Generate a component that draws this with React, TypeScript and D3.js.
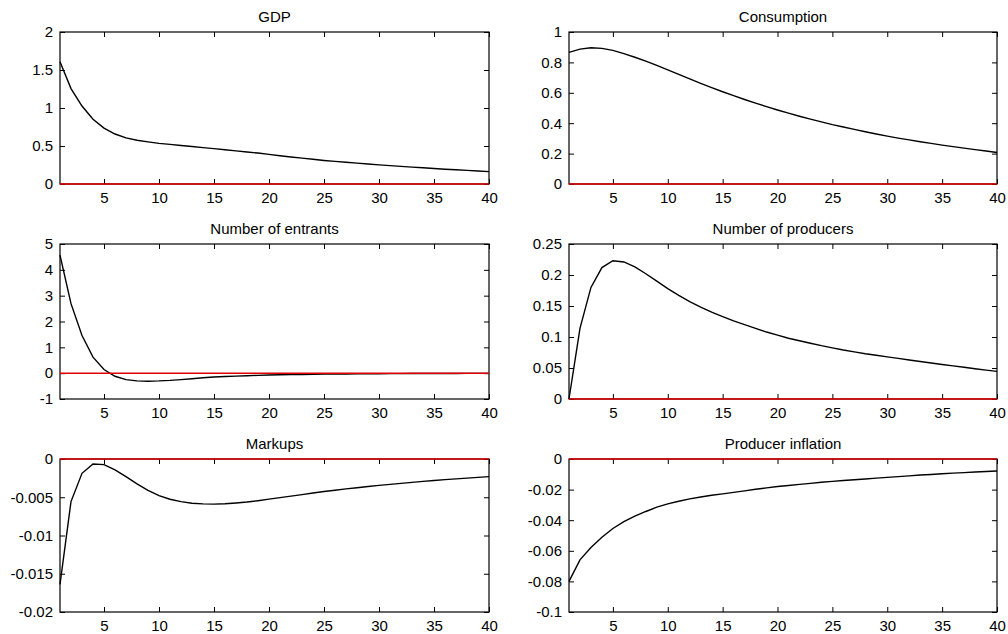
import React, { useEffect, useRef } from "react";
import * as d3 from "d3";

// horizon (quarters)
const periods = d3.range(1, 41);
const xTicks = [5, 10, 15, 20, 25, 30, 35, 40];

// impulse responses
const gdp = [1.61, 1.255, 1.026, 0.853, 0.736, 0.658, 0.606, 0.576, 0.554, 0.535,
  0.521, 0.507, 0.493, 0.479, 0.465, 0.45, 0.436, 0.421, 0.407, 0.39,
  0.372, 0.356, 0.34, 0.325, 0.31, 0.298, 0.286, 0.275, 0.264, 0.252,
  0.242, 0.232, 0.222, 0.213, 0.204, 0.195, 0.187, 0.179, 0.171, 0.163];
const consumption = [0.866, 0.887, 0.896, 0.892, 0.879, 0.858, 0.834, 0.808, 0.78, 0.751,
  0.721, 0.691, 0.662, 0.634, 0.607, 0.581, 0.556, 0.532, 0.509, 0.487,
  0.466, 0.446, 0.427, 0.409, 0.391, 0.375, 0.359, 0.344, 0.329, 0.315,
  0.302, 0.29, 0.278, 0.267, 0.256, 0.246, 0.236, 0.226, 0.217, 0.207];
const entrants = [4.57, 2.69, 1.46, 0.62, 0.14, -0.12, -0.25, -0.3, -0.31, -0.3,
  -0.28, -0.25, -0.215, -0.18, -0.15, -0.13, -0.113, -0.098, -0.085, -0.073,
  -0.062, -0.055, -0.049, -0.043, -0.038, -0.034, -0.03, -0.027, -0.024, -0.021,
  -0.019, -0.017, -0.015, -0.013, -0.012, -0.011, -0.01, -0.009, -0.008, -0.007];
const producers = [0, 0.114, 0.18, 0.212, 0.223, 0.221, 0.213, 0.202, 0.19, 0.178,
  0.167, 0.157, 0.148, 0.14, 0.133, 0.126, 0.12, 0.114, 0.108, 0.103,
  0.098, 0.094, 0.09, 0.086, 0.0825, 0.079, 0.076, 0.073, 0.0705, 0.068,
  0.0655, 0.063, 0.0605, 0.058, 0.0557, 0.0534, 0.0511, 0.0489, 0.0466, 0.0445];
const markups = [-0.0164, -0.00557, -0.00187, -0.00065, -0.00074, -0.00143, -0.0023, -0.00326, -0.0041, -0.0048,
  -0.00526, -0.00557, -0.00578, -0.00587, -0.0059, -0.00585, -0.00575, -0.00562, -0.00545, -0.00525,
  -0.00505, -0.00485, -0.00465, -0.00445, -0.00425, -0.00408, -0.00391, -0.00375, -0.0036, -0.00345,
  -0.00331, -0.00318, -0.00305, -0.00293, -0.00281, -0.0027, -0.0026, -0.0025, -0.0024, -0.0023];
const producerInflation = [-0.08, -0.0659, -0.0578, -0.0511, -0.0454, -0.0409, -0.0374, -0.0343, -0.0315, -0.0293,
  -0.0276, -0.0261, -0.0248, -0.0237, -0.0228, -0.0218, -0.0208, -0.0198, -0.0189, -0.018,
  -0.0173, -0.0166, -0.0159, -0.0152, -0.0146, -0.0141, -0.0136, -0.0131, -0.0125, -0.012,
  -0.0115, -0.011, -0.0105, -0.0101, -0.0096, -0.0092, -0.0089, -0.0085, -0.0082, -0.0078];

const titles = ["GDP", "Consumption", "Number of entrants", "Number of producers", "Markups", "Producer inflation"];
const series = [gdp, consumption, entrants, producers, markups, producerInflation];
const yTicks = [
  [0, 0.5, 1, 1.5, 2],
  [0, 0.2, 0.4, 0.6, 0.8, 1],
  [-1, 0, 1, 2, 3, 4, 5],
  [0, 0.05, 0.1, 0.15, 0.2, 0.25],
  [-0.02, -0.015, -0.01, -0.005, 0],
  [-0.1, -0.08, -0.06, -0.04, -0.02, 0],
];

// subplot boxes (left, right, top, bottom)
const cols = [[60, 489], [569, 997]];
const rows = [[32, 184], [244, 399], [459, 612]];

const FONT = "'Liberation Sans', Arial, Helvetica, sans-serif";

export default function App() {
  const svgRef = useRef<SVGSVGElement>(null);

  useEffect(() => {
    const svg = d3.select(svgRef.current);
    svg.selectAll("*").remove();

    series.forEach((values, i) => {
      const [x0, x1] = cols[i % 2];
      const [y0, y1] = rows[Math.floor(i / 2)];
      const ticks = yTicks[i];

      const x = d3.scaleLinear().domain([1, 40]).range([x0, x1]);
      const y = d3.scaleLinear().domain([ticks[0], ticks[ticks.length - 1]]).range([y1, y0]);

      const g = svg.append("g");
      const fmt = (d: any) => String(+(+d).toFixed(6));

      const axes = [
        { ax: d3.axisBottom(x).tickValues(xTicks).tickFormat(fmt as any).tickPadding(8), t: `translate(0,${y1})`, lab: true },
        { ax: d3.axisTop(x).tickValues(xTicks).tickFormat(() => ""), t: `translate(0,${y0})`, lab: false },
        { ax: d3.axisLeft(y).tickValues(ticks).tickFormat(fmt as any).tickPadding(7), t: `translate(${x0},0)`, lab: true },
        { ax: d3.axisRight(y).tickValues(ticks).tickFormat(() => ""), t: `translate(${x1},0)`, lab: false },
      ];
      axes.forEach(({ ax, t }) => {
        const a = g.append("g").attr("transform", t).call(ax.tickSizeInner(-5).tickSizeOuter(0) as any);
        a.select(".domain").remove();
        a.selectAll("line").attr("stroke", "#000").attr("stroke-width", 1);
        a.selectAll("text").attr("fill", "#000").style("font-family", FONT).style("font-size", "15px");
      });

      g.append("rect")
        .attr("x", x0).attr("y", y0)
        .attr("width", x1 - x0).attr("height", y1 - y0)
        .attr("fill", "none").attr("stroke", "#000").attr("stroke-width", 1.2);

      const line = d3.line<number>().x((_, k) => x(periods[k])).y(d => y(d));
      g.append("path")
        .datum(values)
        .attr("d", line)
        .attr("fill", "none")
        .attr("stroke", "#000")
        .attr("stroke-width", 1.4);

      g.append("line")
        .attr("x1", x0).attr("x2", x1)
        .attr("y1", y(0)).attr("y2", y(0))
        .attr("stroke", "#e00000")
        .attr("stroke-width", 1.5);

      g.append("text")
        .attr("x", (x0 + x1) / 2)
        .attr("y", y0 - 10)
        .attr("text-anchor", "middle")
        .style("font-family", FONT)
        .style("font-size", "15px")
        .text(titles[i]);
    });
  }, []);

  return (
    <div style={{ position: "absolute", left: 0, top: 0, background: "#fff" }}>
      <svg ref={svgRef} width={1008} height={634} style={{ display: "block" }} />
    </div>
  );
}
